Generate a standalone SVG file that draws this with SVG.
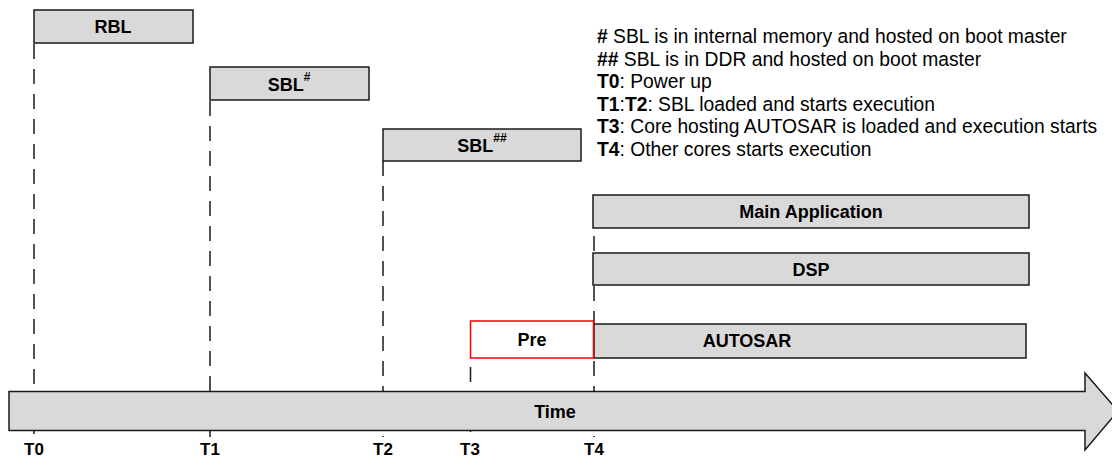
<svg xmlns="http://www.w3.org/2000/svg" width="1112" height="462" viewBox="0 0 1112 462">
<style>
.box{fill:#d9d9d9;stroke:#1a1a1a;stroke-width:1.5}
.pre{fill:#ffffff;stroke:#ff0000;stroke-width:1.5}
.lbl{font-family:"Liberation Sans",Arial,sans-serif;font-weight:bold;font-size:18px;fill:#000;text-anchor:middle}
.sup{font-size:12px}
.dash{stroke:#1a1a1a;stroke-width:1.5;stroke-dasharray:15 10;fill:none}
.leg{font-family:"Liberation Sans",Arial,sans-serif;font-size:19.3px;fill:#000}
.tl{font-family:"Liberation Sans",Arial,sans-serif;font-weight:bold;font-size:17px;fill:#000;text-anchor:middle}
</style>
<rect width="1112" height="462" fill="#ffffff"/>
<g id="connectors">
<line class="dash" x1="34" y1="44" x2="34" y2="437"/>
<line class="dash" x1="210" y1="101" x2="210" y2="437"/>
<line class="dash" x1="383" y1="161" x2="383" y2="437"/>
<line class="dash" x1="470.5" y1="359" x2="470.5" y2="437" stroke-dashoffset="-8"/>
<line class="dash" x1="594" y1="228" x2="594" y2="437" stroke-dashoffset="-8"/>
</g>
<g id="rbl"><rect class="box" x="34" y="10" width="159" height="33"/><text class="lbl" x="113" y="33">RBL</text></g>
<g id="sbl1"><rect class="box" x="210" y="67" width="159" height="33"/><text class="lbl" x="289" y="91">SBL<tspan class="sup" dy="-10">#</tspan></text></g>
<g id="sbl2"><rect class="box" x="383" y="129" width="198" height="32"/><text class="lbl" x="482" y="152">SBL<tspan class="sup" dy="-10">##</tspan></text></g>
<g id="mainapp"><rect class="box" x="593" y="195" width="436" height="33"/><text class="lbl" x="811" y="218">Main Application</text></g>
<g id="dsp"><rect class="box" x="593" y="253" width="436" height="32"/><text class="lbl" x="811" y="276">DSP</text></g>
<g id="autosar"><rect class="box" x="594" y="324" width="432" height="34"/><text class="lbl" x="747" y="347">AUTOSAR</text></g>
<g id="pre"><rect class="pre" x="470.5" y="321" width="123" height="37"/><text class="lbl" x="532" y="346">Pre</text></g>
<g id="time">
<polygon class="box" points="9,391.5 1085,391.5 1085,373 1118,411 1085,450 1085,430.5 9,430.5"/>
<text class="lbl" x="555" y="418" font-size="20">Time</text>
</g>
<g id="tlabels">
<text class="tl" x="34" y="455">T0</text>
<text class="tl" x="210" y="455">T1</text>
<text class="tl" x="383" y="455">T2</text>
<text class="tl" x="470" y="455">T3</text>
<text class="tl" x="594" y="455">T4</text>
</g>
<g id="legend">
<text class="leg" x="597" y="43"><tspan font-weight="bold">#</tspan> SBL is in internal memory and hosted on boot master</text>
<text class="leg" x="597" y="65.5"><tspan font-weight="bold">##</tspan> SBL is in DDR and hosted on boot master</text>
<text class="leg" x="597" y="88"><tspan font-weight="bold">T0</tspan>: Power up</text>
<text class="leg" x="597" y="110.5"><tspan font-weight="bold">T1</tspan>:<tspan font-weight="bold">T2</tspan>: SBL loaded and starts execution</text>
<text class="leg" x="597" y="133"><tspan font-weight="bold">T3</tspan>: Core hosting AUTOSAR is loaded and execution starts</text>
<text class="leg" x="597" y="155.5"><tspan font-weight="bold">T4</tspan>: Other cores starts execution</text>
</g>
</svg>
